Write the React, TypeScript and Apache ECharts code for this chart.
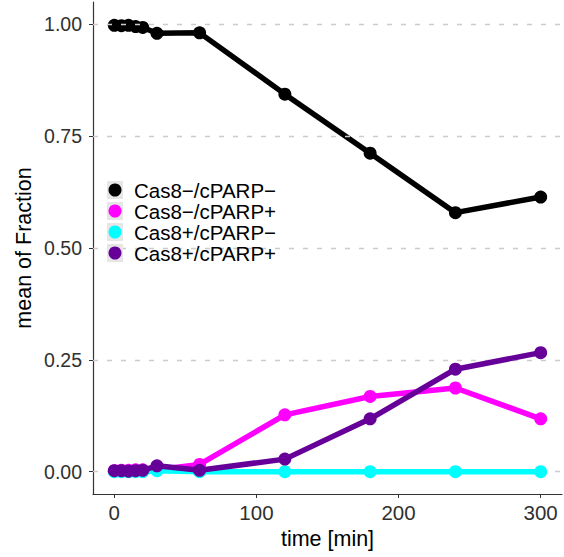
import React, { useEffect, useRef } from "react";
import * as echarts from "echarts";

const times = [0, 5, 10, 15, 20, 30, 60, 120, 180, 240, 300];
const seriesNames = ["Cas8−/cPARP−", "Cas8−/cPARP+", "Cas8+/cPARP−", "Cas8+/cPARP+"];
const negNeg = [0.998, 0.997, 0.998, 0.995, 0.993, 0.98, 0.981, 0.844, 0.712, 0.579, 0.614];
const negPos = [0.002, 0.003, 0.003, 0.004, 0.004, 0.004, 0.016, 0.127, 0.168, 0.187, 0.118];
const posNeg = [0.0, 0.0, 0.0, 0.0, 0.0, 0.002, 0.0, 0.0, 0.0, 0.0, 0.0];
const posPos = [0.002, 0.002, 0.001, 0.002, 0.003, 0.013, 0.003, 0.028, 0.118, 0.229, 0.266];
const colors = ["#000000", "#ff00ff", "#00ffff", "#660099"];
const xTicks = [0, 100, 200, 300];
const yTicks = [0, 0.25, 0.5, 0.75, 1.0];

const FONT = "Liberation Sans, Arial, sans-serif";

export default function App() {
  const ref = useRef<HTMLDivElement>(null);
  useEffect(() => {
    const chart = echarts.init(ref.current!, null, { renderer: "svg" });
    const values = [negNeg, negPos, posNeg, posPos];
    const series: any[] = values.map((vals, i) => ({
      name: seriesNames[i],
      type: "line",
      data: times.map((t, j) => [t, vals[j]]),
      symbol: "circle",
      symbolSize: 13,
      showSymbol: true,
      lineStyle: { width: 5.5, color: colors[i] },
      itemStyle: { color: colors[i] },
      z: 3 + i,
    }));
    series.unshift({
      name: "grid",
      type: "line",
      data: [],
      silent: true,
      z: 1,
      markLine: {
        silent: true,
        symbol: "none",
        label: { show: false },
        lineStyle: { color: "#cccccc", type: [5, 9], width: 1.3 },
        data: yTicks.map((v) => ({ yAxis: v })),
      },
    });
    const rowTop = 190;
    const rowStep = 21;
    const graphic: any[] = [];
    seriesNames.forEach((name, i) => {
      const cy = rowTop + i * rowStep;
      graphic.push({
        type: "rect",
        shape: { x: 107, y: cy - 9, width: 16, height: 18 },
        style: { fill: "#e6e6e6" },
        z: 10,
        silent: true,
      });
      graphic.push({
        type: "circle",
        shape: { cx: 115, cy, r: 6.5 },
        style: { fill: colors[i] },
        z: 11,
        silent: true,
      });
      graphic.push({
        type: "text",
        x: 134,
        y: cy,
        style: {
          text: name,
          fontFamily: FONT,
          fontSize: 20.5,
          lineHeight: 18,
          fill: "#000",
          verticalAlign: "middle",
          align: "left",
        },
        z: 11,
        silent: true,
      });
    });
    chart.setOption({
      animation: false,
      grid: { left: 93, right: 2, top: 2, bottom: 63 },
      graphic,
      xAxis: {
        type: "value",
        min: -15,
        max: 315,
        name: "time [min]",
        nameLocation: "middle",
        nameGap: 34,
        nameMoveOverlap: false,
        nameTextStyle: { fontFamily: FONT, fontSize: 21.5, color: "#000" },
        axisLine: { show: true, onZero: false, lineStyle: { color: "#333", width: 1.2 } },
        axisTick: { show: true, length: 4, customValues: xTicks, lineStyle: { color: "#333" } },
        axisLabel: { customValues: xTicks, fontFamily: FONT, fontSize: 20.5, color: "#303030", margin: 8 },
        splitLine: { show: false },
      },
      yAxis: {
        type: "value",
        min: -0.05,
        max: 1.05,
        name: "mean of Fraction",
        nameLocation: "middle",
        nameGap: 58,
        nameMoveOverlap: false,
        nameTextStyle: { fontFamily: FONT, fontSize: 21.5, color: "#000" },
        axisLine: { show: true, onZero: false, lineStyle: { color: "#333", width: 1.2 } },
        axisTick: { show: true, length: 4, customValues: yTicks, lineStyle: { color: "#333" } },
        axisLabel: {
          customValues: yTicks,
          fontFamily: FONT,
          fontSize: 19.5,
          color: "#303030",
          margin: 11,
          formatter: (v: number) => v.toFixed(2),
        },
        splitLine: { show: false },
      },
      series,
    });
    return () => chart.dispose();
  }, []);
  return (
    <div
      ref={ref}
      style={{ position: "absolute", left: 0, top: 0, width: 564, height: 557 }}
    />
  );
}
